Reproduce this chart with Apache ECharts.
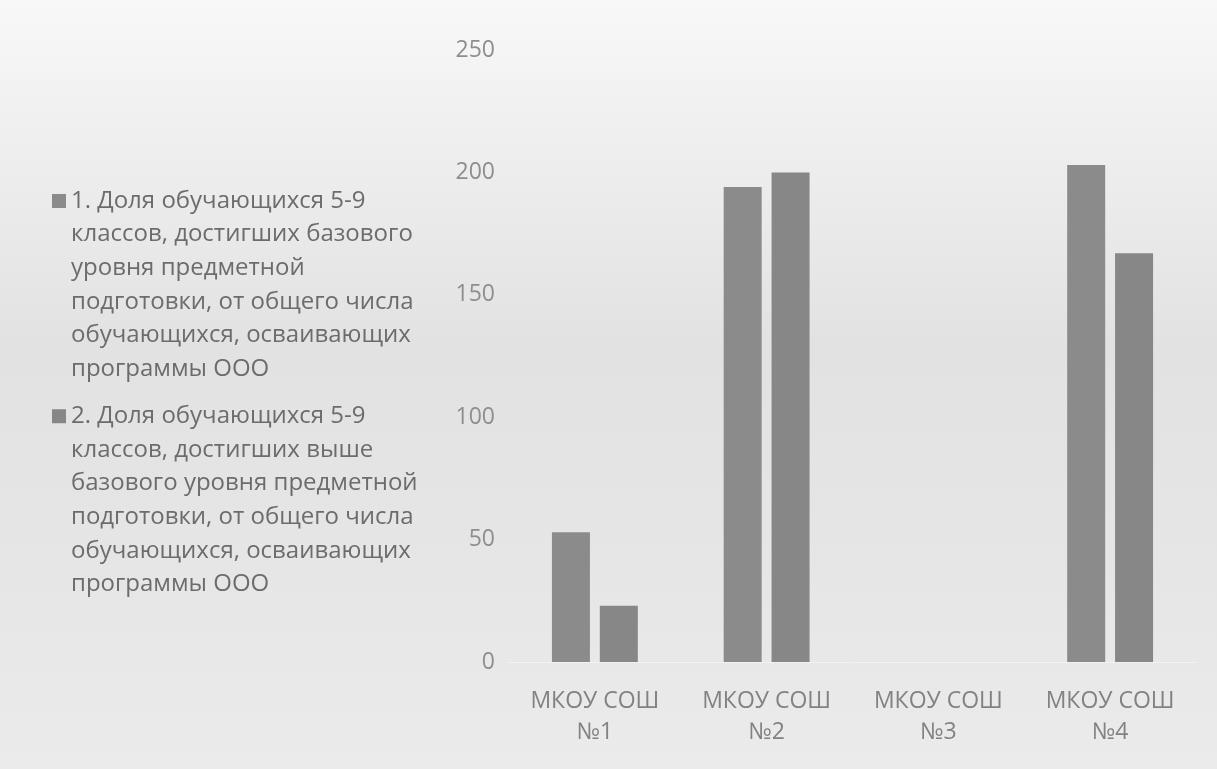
<!DOCTYPE html>
<html>
<head>
<meta charset="utf-8">
<script src="https://cdn.jsdelivr.net/npm/echarts@6/dist/echarts.min.js"></script>
<style>
  html, body { margin: 0; padding: 0; }
  #chart { width: 1217px; height: 769px; }
</style>
</head>
<body>
<div id="chart"></div>
<script>
const schools = ['МКОУ СОШ\n№1', 'МКОУ СОШ\n№2', 'МКОУ СОШ\n№3', 'МКОУ СОШ\n№4']
const baseLevel = [53, 194, 0, 203]
const aboveBase = [23, 200, 0, 167]
const seriesNames = [
  '1. Доля обучающихся 5-9\nклассов, достигших базового\nуровня предметной\nподготовки, от общего числа\nобучающихся, осваивающих\nпрограммы ООО',
  '2. Доля обучающихся 5-9\nклассов, достигших выше\nбазового уровня предметной\nподготовки, от общего числа\nобучающихся, осваивающих\nпрограммы ООО'
]
const yTicks = { min: 0, max: 250, interval: 50 }

const font = '"Open Sans", "Noto Sans", sans-serif'
const lineH = 33.7
const blockH = lineH * 6

const chart = echarts.init(document.getElementById('chart'))

chart.setOption({
  animation: false,
  backgroundColor: new echarts.graphic.LinearGradient(0, 0, 0, 1, [
    { offset: 0, color: '#f8f8f8' },
    { offset: 0.14, color: '#f1f1f1' },
    { offset: 0.45, color: '#e2e2e2' },
    { offset: 0.75, color: '#e6e6e6' },
    { offset: 1, color: '#ebebeb' }
  ]),
  textStyle: { fontFamily: font },
  legend: {
    orient: 'vertical',
    left: 47,
    top: 179,
    itemWidth: 14,
    itemHeight: blockH,
    itemGap: 13,
    // square sits on the first text line, rest of the icon box is empty
    icon: 'path://M0 0h0.01M0 10h14v14H0zM0 ' + blockH + 'h0.01',
    textStyle: { fontSize: 24, lineHeight: lineH, color: '#6c6c6c', fontFamily: font },
    data: seriesNames
  },
  grid: { left: 509, right: 21, top: 50, bottom: 107 },
  xAxis: {
    type: 'category',
    data: schools,
    axisTick: { show: false },
    axisLine: { lineStyle: { color: '#f2f2f2', width: 1 } },
    axisLabel: {
      color: '#828282',
      fontSize: 23,
      lineHeight: 31,
      margin: 24,
      interval: 0
    }
  },
  yAxis: {
    type: 'value',
    min: yTicks.min,
    max: yTicks.max,
    interval: yTicks.interval,
    splitLine: { show: false },
    axisLine: { show: false },
    axisTick: { show: false },
    axisLabel: { color: '#8e8e8e', fontSize: 23, margin: 14 }
  },
  series: [
    {
      name: seriesNames[0],
      type: 'bar',
      data: baseLevel,
      barWidth: 38,
      barGap: '26%',
      itemStyle: { color: '#8b8b8b' }
    },
    {
      name: seriesNames[1],
      type: 'bar',
      data: aboveBase,
      barWidth: 38,
      itemStyle: { color: '#878787' }
    }
  ]
})
</script>
</body>
</html>
